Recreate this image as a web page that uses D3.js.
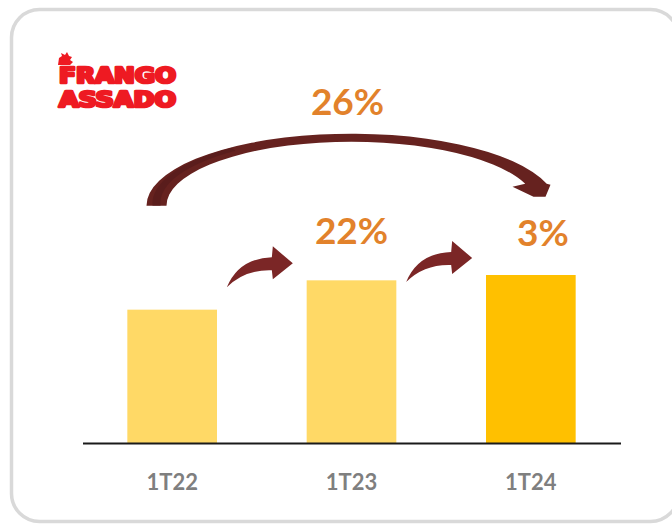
<!DOCTYPE html>
<html>
<head>
<meta charset="utf-8">
<script src="https://cdn.jsdelivr.net/npm/d3@7/dist/d3.min.js"></script>
<style>
  html, body { margin: 0; padding: 0; background: #fff; }
  svg { display: block; }
</style>
</head>
<body>
<svg id="chart" width="672" height="524"></svg>
<script>
// ---- data ----
const categories = ["1T22", "1T23", "1T24"];
const values = [100, 122, 126];            // index (1T22 = 100)
const barColors = ["#FFD966", "#FFD966", "#FFC000"];
const stepGrowth = ["22%", "3%"];          // 1T22→1T23, 1T23→1T24
const totalGrowth = "26%";                 // 1T22→1T24
const logoLines = ["FRANGO", "ASSADO"];

// ---- setup ----
const svg = d3.select("#chart");
const baseY = 443;

const x = d3.scaleBand().domain(categories).range([82.5, 620.5])
  .paddingInner(0.5).paddingOuter(0.25);
const y = d3.scaleLinear().domain([0, d3.max(values)]).range([baseY, 275]);

// frame
svg.append("rect")
  .attr("x", 11.5).attr("y", 9.5).attr("width", 667).attr("height", 512)
  .attr("rx", 28).attr("ry", 28)
  .attr("fill", "#fff").attr("stroke", "#d9d9d9").attr("stroke-width", 3.5);

// logo
const logo = svg.append("g").attr("fill", "#EE1A22");
logo.append("path")
  .attr("d", "M58,65 L59,58 L62,56 L61,53 L65,55 L67,52 L69,56 L72,57 L70,60 L73,62 L70,65 Z");
logoLines.forEach((t, i) => {
  logo.append("text")
    .attr("x", 59).attr("y", 82.5 + i * 24.5)
    .attr("textLength", 117).attr("lengthAdjust", "spacingAndGlyphs")
    .attr("font-family", "DejaVu Sans Condensed, DejaVu Sans, sans-serif")
    .attr("font-weight", "bold").attr("font-size", 21)
    .attr("stroke", "#EE1A22").attr("stroke-width", 2.6).attr("stroke-linejoin", "round")
    .text(t);
});

// bars
svg.append("g").selectAll("rect").data(values).join("rect")
  .attr("x", (d, i) => x(categories[i]))
  .attr("y", d => y(d))
  .attr("width", x.bandwidth())
  .attr("height", d => baseY - y(d))
  .attr("fill", (d, i) => barColors[i]);

// axis
const axis = svg.append("g").attr("transform", `translate(0,${baseY})`)
  .call(d3.axisBottom(x).tickSize(0).tickSizeOuter(0));
axis.select(".domain").attr("stroke", "#1a1a1a").attr("stroke-width", 2);
axis.selectAll(".tick text")
  .attr("y", 47).attr("dy", 0)
  .attr("font-family", "Lato, sans-serif").attr("font-weight", "bold")
  .attr("font-size", 22).attr("fill", "#7f7f7f");

// small curved arrows between bars
const cx = c => x(c) + x.bandwidth() / 2;
for (let i = 0; i < categories.length - 1; i++) {
  const gapMid = (x(categories[i]) + x.bandwidth() + x(categories[i + 1])) / 2;
  const tx = gapMid + 31, ty = y(values[i + 1]) - 17;
  const p = d3.path();
  p.moveTo(tx - 66, ty + 24);
  p.quadraticCurveTo(tx - 54, ty - 5, tx - 21, ty - 6);
  p.lineTo(tx - 20, ty - 17);
  p.lineTo(tx, ty);
  p.lineTo(tx - 20, ty + 16);
  p.lineTo(tx - 21, ty + 7);
  p.quadraticCurveTo(tx - 48, ty + 6, tx - 66, ty + 24);
  p.closePath();
  svg.append("path").attr("d", p.toString()).attr("fill", "#7B2626");
}

// big curved arrow from first to last bar
{
  const mx = (cx(categories[0]) + cx(categories[2])) / 2;
  const my = y(values[0]) - 104;
  const oRx = 205, oRy = 72, iRx = 185, iRy = 64;
  const endY = my - 22;
  const oEndX = mx + oRx * Math.sqrt(1 - ((my - endY) / oRy) ** 2);
  const iEndX = mx + iRx * Math.sqrt(1 - ((my - endY) / iRy) ** 2);
  const d = [
    `M${mx - oRx},${my}`,
    `A${oRx},${oRy} 0 0 1 ${oEndX},${endY}`,
    `L${mx + 199},${endY + 1}`,
    `L${mx + 194},${my - 9}`,
    `L${mx + 182},${my - 9}`,
    `L${mx + 161},${endY + 3}`,
    `L${iEndX},${endY}`,
    `A${iRx},${iRy} 0 0 0 ${mx - iRx},${my}`,
    "Z"
  ].join(" ");
  svg.append("path").attr("d", d).attr("fill", "#66221F");
  const d2 = [
    `M${mx - 199},${my}`,
    `A199,70 0 0 1 ${mx - 120},${my - 58}`,
    `L${mx - 116},${my - 55}`,
    `A191,66 0 0 0 ${mx - 191},${my}`,
    "Z"
  ].join(" ");
  svg.append("path").attr("d", d2).attr("fill", "#561B1B").attr("opacity", 0.7);
}

// growth labels
const lbl = (t, px, py) => svg.append("text")
  .attr("x", px).attr("y", py).attr("text-anchor", "middle")
  .attr("font-family", "Lato, sans-serif").attr("font-weight", "bold")
  .attr("font-size", 37).attr("fill", "#E2822B").text(t);
lbl(totalGrowth, (cx(categories[0]) + cx(categories[2])) / 2 - 4, 115);
lbl(stepGrowth[0], cx(categories[1]), y(values[1]) - 36);
lbl(stepGrowth[1], cx(categories[2]) + 12, y(values[2]) - 29);
</script>
</body>
</html>
